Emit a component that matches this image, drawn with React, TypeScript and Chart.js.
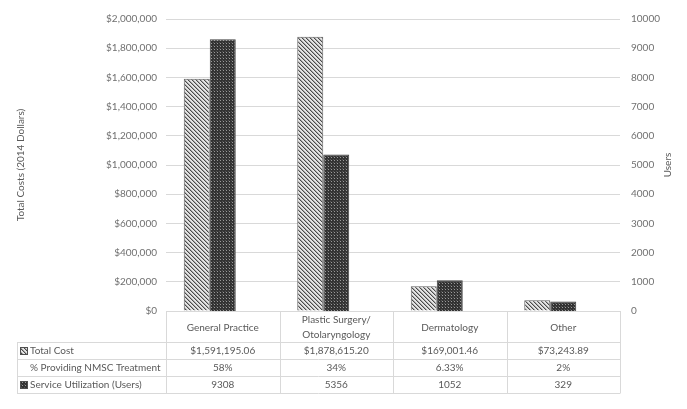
import React, { useEffect, useRef } from "react";
import { Chart, registerables } from "chart.js";

Chart.register(...registerables);

const categories: string[][] = [
  ["General Practice"],
  ["Plastic Surgery/", "Otolaryngology"],
  ["Dermatology"],
  ["Other"],
];
const totalCost = [1591195.06, 1878615.2, 169001.46, 73243.89];
const pctProviding = ["58%", "34%", "6.33%", "2%"];
const users = [9308, 5356, 1052, 329];
const rowLabels = ["Total Cost", "% Providing NMSC Treatment", "Service Utilization (Users)"];
const leftTitle = "Total Costs (2014 Dollars)";
const rightTitle = "Users";

const FONT = "Lato";
const TEXT = "#595959";
const GRID = "#d9d9d9";

function hatchPattern(ctx: CanvasRenderingContext2D): CanvasPattern | string {
  const c = document.createElement("canvas");
  c.width = 4;
  c.height = 4;
  const g = c.getContext("2d")!;
  g.fillStyle = "#e4e4e4";
  g.fillRect(0, 0, 4, 4);
  for (let i = 0; i < 4; i++) {
    g.fillStyle = "#4a4a4a";
    g.fillRect(i, i, 1, 1);
    g.fillStyle = "#a8a8a8";
    g.fillRect((i + 1) % 4, i, 1, 1);
  }
  return ctx.createPattern(c, "repeat") || "#888";
}

function dotPattern(ctx: CanvasRenderingContext2D): CanvasPattern | string {
  const c = document.createElement("canvas");
  c.width = 3;
  c.height = 3;
  const g = c.getContext("2d")!;
  g.fillStyle = "#333333";
  g.fillRect(0, 0, 3, 3);
  g.fillStyle = "#9a9a9a";
  g.fillRect(1, 1, 1, 1);
  g.fillStyle = "#555555";
  g.fillRect(0, 0, 1, 1);
  return ctx.createPattern(c, "repeat") || "#333";
}

const fmtCost = (v: number) =>
  "$" + v.toLocaleString("en-US", { minimumFractionDigits: 2, maximumFractionDigits: 2 });

export default function App() {
  const ref = useRef<HTMLCanvasElement>(null);
  useEffect(() => {
    document.body.style.margin = "0";
    const canvas = ref.current!;
    const ctx = canvas.getContext("2d")!;
    const hatch = hatchPattern(ctx);
    const dots = dotPattern(ctx);

    const tablePlugin = {
      id: "dataTable",
      afterDraw(chart: any) {
        const c = chart.ctx as CanvasRenderingContext2D;
        const area = chart.chartArea;
        const n = categories.length;
        const colW = (area.right - area.left) / n;
        const top = area.bottom;
        const headerBottom = top + 31;
        const rowH = 17;
        const tableLeft = 17;
        const rowsY = [headerBottom, headerBottom + rowH, headerBottom + 2 * rowH, headerBottom + 3 * rowH];
        c.save();
        c.strokeStyle = GRID;
        c.lineWidth = 1;
        c.beginPath();
        c.moveTo(area.left, Math.round(top) + 0.5);
        c.lineTo(area.right, Math.round(top) + 0.5);
        rowsY.forEach((y) => {
          c.moveTo(tableLeft, Math.round(y) + 0.5);
          c.lineTo(area.right, Math.round(y) + 0.5);
        });
        for (let i = 0; i <= n; i++) {
          const x = Math.round(area.left + i * colW) + 0.5;
          c.moveTo(x, Math.round(top));
          c.lineTo(x, Math.round(rowsY[3]) + 0.5);
        }
        c.moveTo(tableLeft + 0.5, Math.round(rowsY[0]));
        c.lineTo(tableLeft + 0.5, Math.round(rowsY[3]) + 0.5);
        c.stroke();

        c.fillStyle = TEXT;
        c.font = `10px ${FONT}`;
        c.textAlign = "center";
        c.textBaseline = "middle";
        categories.forEach((lines, i) => {
          const cx = area.left + (i + 0.5) * colW;
          const cy = (top + headerBottom) / 2 + 1;
          const lh = 15;
          lines.forEach((ln, j) => {
            c.fillText(ln, cx, cy + (j - (lines.length - 1) / 2) * lh);
          });
        });
        const rows = [totalCost.map(fmtCost), pctProviding, users.map((u) => String(u))];
        rows.forEach((vals, r) => {
          const cy = rowsY[r] + rowH / 2 + 0.5;
          vals.forEach((v, i) => {
            c.fillText(v, area.left + (i + 0.5) * colW, cy);
          });
        });
        c.textAlign = "left";
        rowLabels.forEach((lab, r) => {
          const cy = rowsY[r] + rowH / 2 + 0.5;
          c.fillStyle = TEXT;
          c.fillText(lab, 30, cy);
          if (r !== 1) {
            c.fillStyle = r === 0 ? (hatch as any) : (dots as any);
            c.fillRect(20, Math.round(cy) - 4, 8, 8);
            c.strokeStyle = "#505050";
            c.strokeRect(20.5, Math.round(cy) - 3.5, 7, 7);
          }
        });
        c.fillStyle = TEXT;
        c.textAlign = "center";
        c.textBaseline = "middle";
        c.translate(21, 165);
        c.rotate(-Math.PI / 2);
        c.fillText(leftTitle, 0, 0);
        c.setTransform(1, 0, 0, 1, 0, 0);
        c.translate(668, 165);
        c.rotate(-Math.PI / 2);
        c.fillText(rightTitle, 0, 0);
        c.restore();
      },
    };

    const chart = new Chart(canvas, {
      type: "bar",
      data: {
        labels: categories.map((l) => l.join(" ")),
        datasets: [
          {
            label: rowLabels[0],
            data: totalCost,
            yAxisID: "y",
            backgroundColor: hatch as any,
            borderColor: "#606060",
            borderWidth: 1,
          },
          {
            label: rowLabels[2],
            data: users,
            yAxisID: "y1",
            backgroundColor: dots as any,
            borderColor: "#404040",
            borderWidth: 1,
          },
          {
            label: "",
            data: categories.map(() => null),
            yAxisID: "y",
            backgroundColor: "transparent",
          },
        ],
      },
      options: {
        responsive: false,
        animation: false,
        devicePixelRatio: 1,
        layout: { padding: { top: 19, bottom: 98, left: 0, right: 0 } },
        plugins: { legend: { display: false }, tooltip: { enabled: false } },
        datasets: { bar: { categoryPercentage: 0.687, barPercentage: 1 } },
        scales: {
          x: { display: false, offset: true },
          y: {
            position: "left",
            min: 0,
            max: 2000000,
            afterFit: (s: any) => {
              s.width = 166;
            },
            ticks: {
              stepSize: 200000,
              padding: 9,
              color: "#707070",
              font: { family: FONT, size: 10 },
              callback: (v: any) => "$" + Number(v).toLocaleString("en-US"),
            },
            grid: { color: GRID, drawTicks: false },
            border: { display: false },
          },
          y1: {
            position: "right",
            min: 0,
            max: 10000,
            afterFit: (s: any) => {
              s.width = 67;
            },
            ticks: {
              stepSize: 1000,
              padding: 11,
              color: "#707070",
              font: { family: FONT, size: 10 },
              callback: (v: any) => String(v),
            },
            grid: { display: false, drawTicks: false },
            border: { display: false },
          },
        },
      },
      plugins: [tablePlugin],
    });
    return () => chart.destroy();
  }, []);
  return <canvas ref={ref} width={687} height={409} style={{ display: "block" }} />;
}
